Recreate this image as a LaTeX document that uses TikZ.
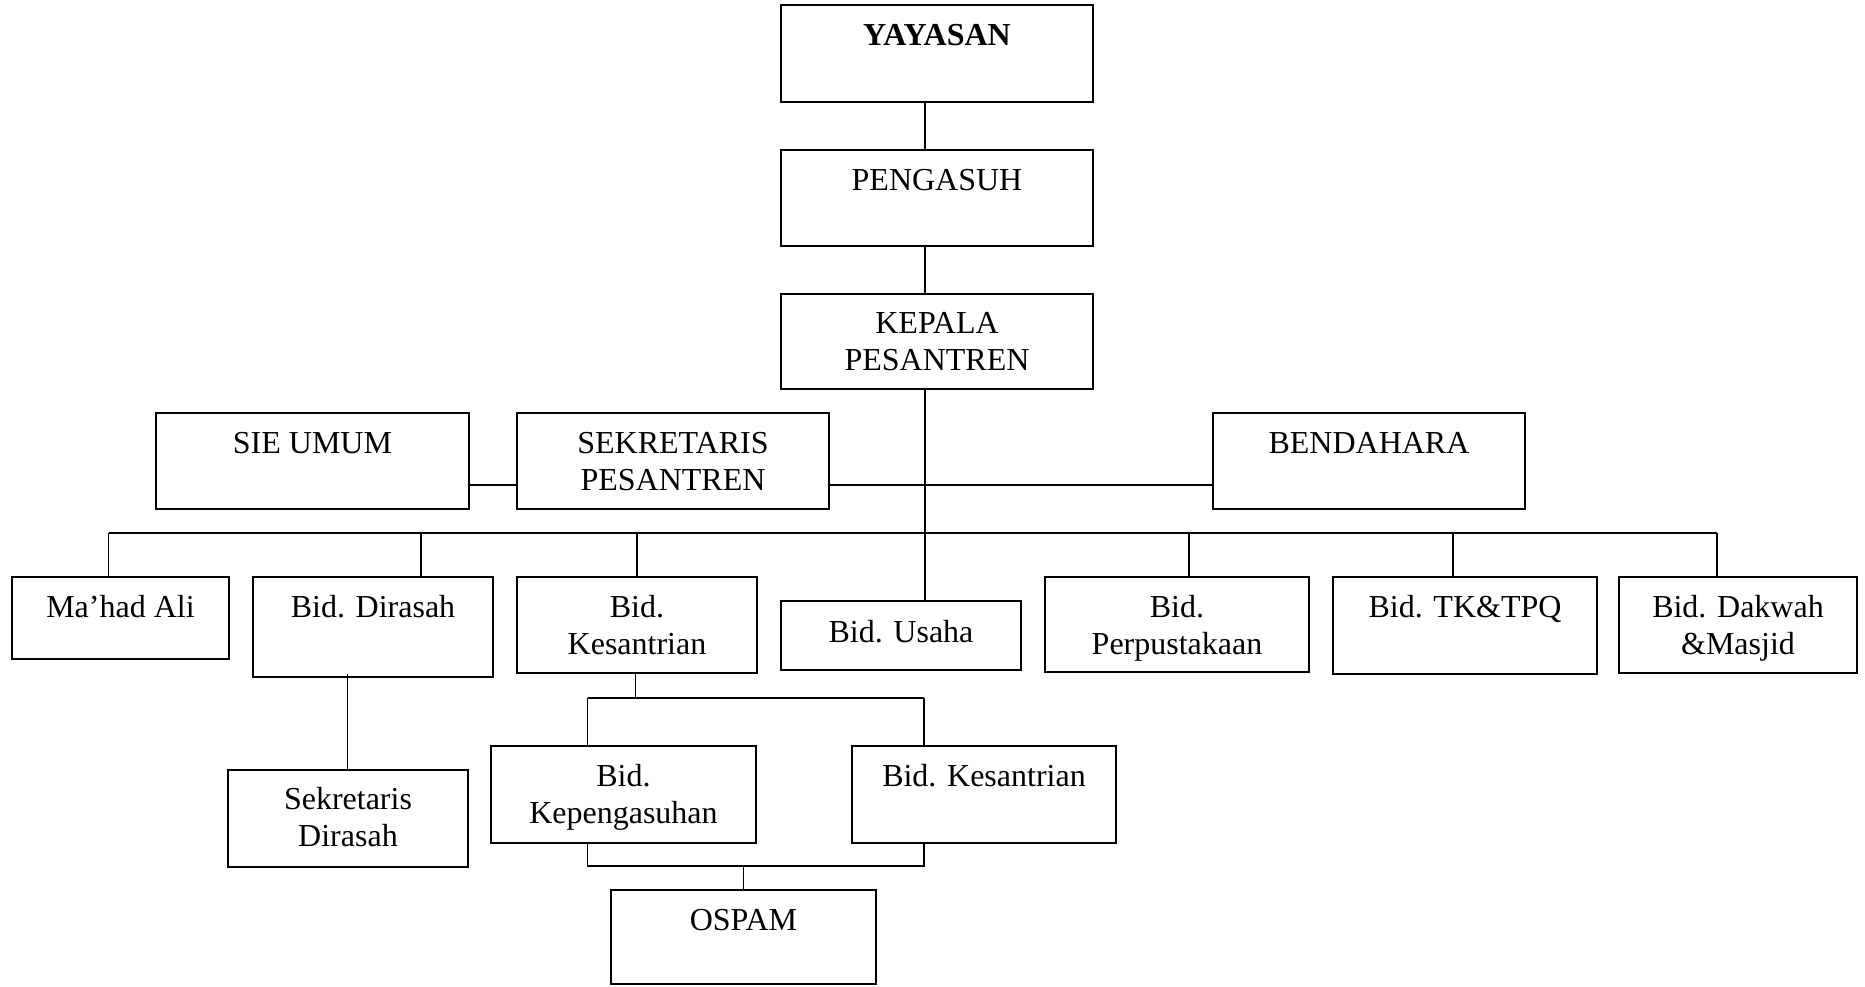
\documentclass[tikz,border=0pt]{standalone}
\usepackage{fontspec}
\setmainfont{Liberation Serif}
\begin{document}
\begin{tikzpicture}[x=1pt,y=-1pt,
  box/.style={draw, line width=2pt, inner sep=0pt},
  lbl/.style={anchor=base, align=center, inner sep=0pt, font=\fontsize{32}{37}\selectfont},
  conn/.style={line width=1.8pt}]
\useasboundingbox (0,0) rectangle (1865,986);
% boxes
\node[box, minimum width=312pt, minimum height=97pt] (yay) at (937,53.5) {};
\node[box, minimum width=312pt, minimum height=96pt] (peng) at (937,198) {};
\node[box, minimum width=312pt, minimum height=95pt] (kep) at (937,341.5) {};
\node[box, minimum width=313pt, minimum height=96pt] (sie) at (312.5,461) {};
\node[box, minimum width=312pt, minimum height=96pt] (sek) at (673,461) {};
\node[box, minimum width=312pt, minimum height=96pt] (bend) at (1369,461) {};
\node[box, minimum width=217pt, minimum height=82pt] (mahad) at (120.5,618) {};
\node[box, minimum width=240pt, minimum height=100pt] (dir) at (373,627) {};
\node[box, minimum width=240pt, minimum height=96pt] (kes) at (637,625) {};
\node[box, minimum width=240pt, minimum height=69pt] (usaha) at (901,635.5) {};
\node[box, minimum width=264pt, minimum height=95pt] (perp) at (1177,624.5) {};
\node[box, minimum width=264pt, minimum height=97pt] (tk) at (1465,625.5) {};
\node[box, minimum width=238pt, minimum height=96pt] (dak) at (1738,625) {};
\node[box, minimum width=240pt, minimum height=97pt] (sekdir) at (348,818.5) {};
\node[box, minimum width=265pt, minimum height=97pt] (kepeng) at (623.5,794.5) {};
\node[box, minimum width=264pt, minimum height=97pt] (kes2) at (984,794.5) {};
\node[box, minimum width=265pt, minimum height=94pt] (ospam) at (743.5,937) {};
% texts (base anchor = baseline of the last line)
\node[lbl] (yayT) at (937,45) {\textbf{YAYASAN}};
\node[lbl] (pengT) at (937,190) {PENGASUH};
\node[lbl] (kepT) at (937,370) {KEPALA\\PESANTREN};
\node[lbl] (sieT) at (312.5,453) {SIE UMUM};
\node[lbl] (sekT) at (673,490) {SEKRETARIS\\PESANTREN};
\node[lbl] (bendT) at (1369,453) {BENDAHARA};
\node[lbl] (mahadT) at (120.5,617) {Ma’had Ali};
\node[lbl] (dirT) at (373,617) {Bid. Dirasah};
\node[lbl] (kesT) at (637,654) {Bid.\\Kesantrian};
\node[lbl] (usahaT) at (901,642) {Bid. Usaha};
\node[lbl] (perpT) at (1177,654) {Bid.\\Perpustakaan};
\node[lbl] (tkT) at (1465,617) {Bid. TK\&TPQ};
\node[lbl] (dakT) at (1738,654) {Bid. Dakwah\\\&Masjid};
\node[lbl] (sekdirT) at (348,846) {Sekretaris\\Dirasah};
\node[lbl] (kepengT) at (623.5,823) {Bid.\\Kepengasuhan};
\node[lbl] (kes2T) at (984,786) {Bid. Kesantrian};
\node[lbl] (ospamT) at (743.5,930) {OSPAM};
% spine
\coordinate (sp) at (925,0);
\draw[conn] (sp |- yay.south) -- (sp |- peng.north);
\draw[conn] (sp |- peng.south) -- (sp |- kep.north);
\draw[conn] (sp |- kep.south) -- (sp |- usaha.north);
% staff line
\draw[conn] (sie.east |- 0,485) -- (sek.west |- 0,485);
\draw[conn] (sek.east |- 0,485) -- (bend.west |- 0,485);
% main bus
\coordinate (d1) at (108.5,533);
\coordinate (d2) at (421,533);
\coordinate (d3) at (637,533);
\coordinate (d5) at (1189,533);
\coordinate (d6) at (1453,533);
\coordinate (d7) at (1717,533);
\draw[conn] (d1) -- (d7);
\draw[conn] (d1) -- (d1 |- mahad.north);
\draw[conn] (d2) -- (d2 |- dir.north);
\draw[conn] (d3) -- (d3 |- kes.north);
\draw[conn] (d5) -- (d5 |- perp.north);
\draw[conn] (d6) -- (d6 |- tk.north);
\draw[conn] (d7) -- (d7 |- dak.north);
% dirasah
\coordinate (dd) at (347.5,674);
\draw[conn] (dd) -- (dd |- sekdir.north);
% kesantrian sub
\coordinate (k0) at (635.5,0);
\coordinate (sbL) at (587.5,698);
\coordinate (sbR) at (924,698);
\draw[conn] (k0 |- kes.south) -- (k0 |- sbL);
\draw[conn] (sbL) -- (sbR);
\draw[conn] (sbL) -- (sbL |- kepeng.north);
\draw[conn] (sbR) -- (sbR |- kes2.north);
\coordinate (lbL) at (587.5,866);
\coordinate (lbR) at (924,866);
\draw[conn] (lbL |- kepeng.south) -- (lbL) -- (lbR) -- (lbR |- kes2.south);
\draw[conn] (ospam.north |- lbL) -- (ospam.north);
\end{tikzpicture}
\end{document}
